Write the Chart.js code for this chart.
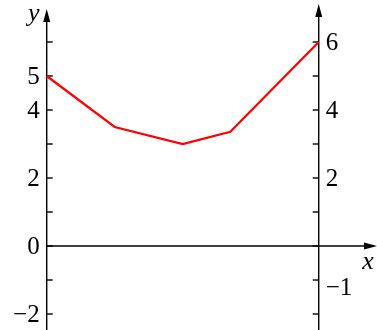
<!DOCTYPE html>
<html>
<head>
<meta charset="utf-8">
<script src="https://cdn.jsdelivr.net/npm/chart.js@4"></script>
<style>
  html, body { margin: 0; padding: 0; background: #fff; }
  canvas { display: block; }
</style>
</head>
<body>
<canvas id="chart" width="377" height="330"></canvas>
<script>
// data
var xValues = [-4, -3, -2, -1.3, 0];
var yValues = [5, 3.5, 3, 3.36, 6];

// axes
var leftAxisX = -4;
var rightAxisX = 0;
var leftTicks = [-2, -1, 0, 1, 2, 3, 4, 5, 6];
var leftLabels = [5, 4, 2, 0, -2];
var rightTicks = [-2, -1, 0, 1, 2, 3, 4, 5, 6];
var rightLabels = [6, 4, 2, -1];

function fmt(v) {
  return v < 0 ? '\u2212' + Math.abs(v) : String(v);
}

var axesPlugin = {
  id: 'mathAxes',
  beforeDatasetsDraw: function (chart) {
    var ctx = chart.ctx;
    var xs = chart.scales.x, ys = chart.scales.y;
    var lx = xs.getPixelForValue(leftAxisX);
    var rx = xs.getPixelForValue(rightAxisX);
    var y0 = ys.getPixelForValue(0);
    var W = chart.width, H = chart.height;

    ctx.save();
    ctx.strokeStyle = '#000';
    ctx.fillStyle = '#000';
    ctx.lineWidth = 1.4;

    // left vertical axis
    ctx.beginPath();
    ctx.moveTo(lx, H);
    ctx.lineTo(lx, 20);
    ctx.stroke();
    ctx.beginPath();
    ctx.moveTo(lx, 9);
    ctx.lineTo(lx - 3.5, 22);
    ctx.lineTo(lx + 3.5, 22);
    ctx.closePath();
    ctx.fill();

    // right vertical axis
    ctx.beginPath();
    ctx.moveTo(rx, H);
    ctx.lineTo(rx, 15);
    ctx.stroke();
    ctx.beginPath();
    ctx.moveTo(rx, 4);
    ctx.lineTo(rx - 3.5, 17);
    ctx.lineTo(rx + 3.5, 17);
    ctx.closePath();
    ctx.fill();

    // horizontal axis
    ctx.beginPath();
    ctx.moveTo(lx, y0);
    ctx.lineTo(W - 8, y0);
    ctx.stroke();
    ctx.beginPath();
    ctx.moveTo(W, y0);
    ctx.lineTo(W - 13, y0 - 3.5);
    ctx.lineTo(W - 13, y0 + 3.5);
    ctx.closePath();
    ctx.fill();

    // tick marks
    leftTicks.forEach(function (v) {
      var py = ys.getPixelForValue(v);
      ctx.beginPath();
      ctx.moveTo(lx, py);
      ctx.lineTo(lx + 6, py);
      ctx.stroke();
    });
    rightTicks.forEach(function (v) {
      var py = ys.getPixelForValue(v);
      ctx.beginPath();
      ctx.moveTo(rx, py);
      ctx.lineTo(rx - 6, py);
      ctx.stroke();
    });

    // tick labels
    ctx.font = '25px "Liberation Serif", serif';
    ctx.textBaseline = 'middle';
    ctx.textAlign = 'right';
    leftLabels.forEach(function (v) {
      ctx.fillText(fmt(v), lx - 7, ys.getPixelForValue(v) + 1);
    });
    ctx.textAlign = 'left';
    rightLabels.forEach(function (v) {
      var off = v < 0 ? 8 : 1;
      ctx.fillText(fmt(v), rx + 7, ys.getPixelForValue(v) + off);
    });

    // axis names
    ctx.font = 'italic 26px "Liberation Serif", serif';
    ctx.textAlign = 'center';
    ctx.fillText('y', lx - 13, 14);
    ctx.fillText('x', W - 9, y0 + 16);
    ctx.restore();
  }
};

new Chart(document.getElementById('chart'), {
  type: 'scatter',
  data: {
    datasets: [{
      data: xValues.map(function (x, i) { return { x: x, y: yValues[i] }; }),
      showLine: true,
      borderColor: '#ff0000',
      borderWidth: 2.2,
      pointRadius: 0,
      tension: 0
    }]
  },
  options: {
    responsive: false,
    animation: false,
    layout: { padding: 0 },
    plugins: { legend: { display: false }, tooltip: { enabled: false } },
    scales: {
      x: { type: 'linear', display: false, min: -4.687, max: 0.857 },
      y: { type: 'linear', display: false, min: -2.47, max: 7.235 }
    }
  },
  plugins: [axesPlugin]
});
</script>
</body>
</html>
